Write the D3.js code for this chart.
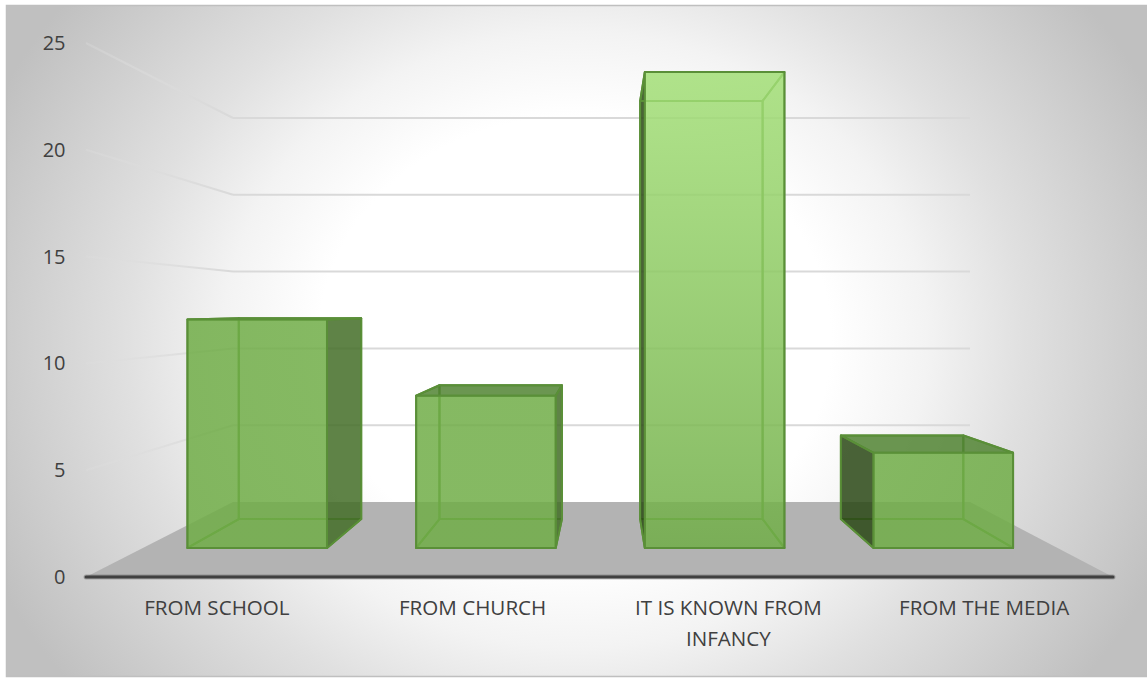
<!DOCTYPE html>
<html><head><meta charset="utf-8">
<script src="https://cdn.jsdelivr.net/npm/d3@7"></script>
<style>html,body{margin:0;padding:0;background:#fff;overflow:hidden}svg{display:block}text{font-family:"Open Sans",sans-serif;fill:#404040}</style>
</head><body><svg id="c" width="1147" height="679"></svg>
<script>
const categories = ["FROM SCHOOL","FROM CHURCH","IT IS KNOWN FROM|INFANCY","FROM THE MEDIA"];
const values = [12,8,25,5];
const tickValues = [0,5,10,15,20,25];

const svg = d3.select("#c");
const defs = svg.append("defs");
const W=1147,H=679;

// depth-aware scales: t=0 front of floor, t=1 back wall
const leftAt = d3.scaleLinear().domain([0,1]).range([86,233]);
const rightAt = d3.scaleLinear().domain([0,1]).range([1113,970]);
const baseAt = d3.scaleLinear().domain([0,1]).range([577,502]);
const unitAt = d3.scaleLinear().domain([0,1]).range([21.36,15.36]);
const band = d3.scaleBand().domain(categories).range([0,1]).paddingInner(0.39).paddingOuter(0.195);
const labelX = d3.scaleBand().domain(categories).range([89,1112]);
const depthFront=0.387, depthBack=0.773;
function P(u,v,t){
  const x = d3.scaleLinear().domain([0,1]).range([leftAt(t),rightAt(t)])(u);
  const y = d3.scaleLinear().domain([0,25]).range([baseAt(t),baseAt(t)-25*unitAt(t)])(v);
  return [x,y];
}
const poly = pts => "M"+pts.map(p=>p.join(",")).join("L")+"Z";

// background
const bg = defs.append("radialGradient").attr("id","bg").attr("gradientUnits","userSpaceOnUse")
  .attr("cx",0).attr("cy",0).attr("r",1)
  .attr("gradientTransform","translate(575,340) scale(640,560)");
[[0.4,"#ffffff"],[0.55,"#f3f3f3"],[0.7,"#e0e0e0"],[0.85,"#d0d0d0"],[1,"#c0c0c0"]].forEach(s=>bg.append("stop").attr("offset",s[0]).attr("stop-color",s[1]));
svg.append("rect").attr("x",6.5).attr("y",5.5).attr("width",W).attr("height",671).attr("fill","url(#bg)").attr("stroke","#bfbfbf").attr("stroke-width",1.5);

// floor
svg.append("path").attr("d",poly([P(0,0,0),P(0,0,1),P(1,0,1),P(1,0,0)])).attr("fill","#b3b3b3");

// grid
tickValues.filter(v=>v>0).forEach((v,i)=>{
  const a=P(0,v,0), b=P(0,v,1), c=P(1,v,1);
  const g=defs.append("linearGradient").attr("id","wall"+i).attr("gradientUnits","userSpaceOnUse")
    .attr("x1",a[0]).attr("y1",a[1]).attr("x2",b[0]).attr("y2",b[1]);
  g.append("stop").attr("offset",0).attr("stop-color","#dedede").attr("stop-opacity",0.3);
  g.append("stop").attr("offset",1).attr("stop-color","#d9d9d9").attr("stop-opacity",1);
  svg.append("path").attr("d",`M${a}L${b}`).attr("stroke",`url(#wall${i})`).attr("stroke-width",2).attr("fill","none");
  svg.append("path").attr("d",`M${b}L${c}`).attr("stroke","#d9d9d9").attr("stroke-width",2).attr("fill","none");
});

// bars
const topColor = d3.scaleLinear().domain([12,25]).range(["#70ad47","#a3df77"]).clamp(true);
const EDGE="#5a8f38";
categories.forEach((cat,i)=>{
  const u0=band(cat), u1=u0+band.bandwidth(), v=values[i];
  const f={bl:P(u0,0,depthFront),br:P(u1,0,depthFront),tl:P(u0,v,depthFront),tr:P(u1,v,depthFront)};
  const b={bl:P(u0,0,depthBack),br:P(u1,0,depthBack),tl:P(u0,v,depthBack),tr:P(u1,v,depthBack)};
  const grad=defs.append("linearGradient").attr("id","front"+i).attr("gradientUnits","userSpaceOnUse")
    .attr("x1",0).attr("x2",0).attr("y1",f.tl[1]).attr("y2",f.bl[1]);
  grad.append("stop").attr("offset",0).attr("stop-color",topColor(v));
  grad.append("stop").attr("offset",1).attr("stop-color","#70ad47");
  const g=svg.append("g");
  const face=(pts,fill,op)=>g.append("path").attr("d",poly(pts)).attr("fill",fill).attr("fill-opacity",op)
     .attr("stroke",EDGE).attr("stroke-width",2).attr("stroke-linejoin","round");
  face([b.bl,b.br,b.tr,b.tl],"none",1);
  face([f.bl,f.br,b.br,b.bl],"none",1);
  const outerL=b.tl[0]<f.tl[0], outerR=b.tr[0]>f.tr[0], outerT=b.tl[1]<f.tl[1];
  face([f.bl,b.bl,b.tl,f.tl], outerL?"#2a4815":"none",0.85);
  face([f.br,b.br,b.tr,f.tr], outerR?"#436d27":"none",0.85);
  face([f.tl,f.tr,b.tr,b.tl], outerT?"#518433":"none",0.85);
  face([f.bl,f.br,f.tr,f.tl],`url(#front${i})`,0.85);
});

// axis line
const a0=P(0,0,0), a1=P(1,0,0);
svg.append("path").attr("d",`M${a0}L${a1}`).attr("stroke","#404040").attr("stroke-opacity",0.3).attr("stroke-width",5).attr("stroke-linecap","round").attr("fill","none");
svg.append("path").attr("d",`M${a0}L${a1}`).attr("stroke","#404040").attr("stroke-width",3).attr("stroke-linecap","round").attr("fill","none");

// tick labels
tickValues.forEach(v=>{
  svg.append("text").attr("x",65.5).attr("y",P(0,v,0)[1]).attr("dy","0.35em").attr("text-anchor","end")
    .attr("font-size",20).text(v);
});
// category labels
categories.forEach(cat=>{
  const c=labelX(cat)+labelX.bandwidth()/2;
  cat.split("|").forEach((s,j)=>{
    svg.append("text").attr("x",c).attr("y",608+j*31).attr("dy","0.35em").attr("text-anchor","middle")
      .attr("font-size",20.6).text(s);
  });
});
</script></body></html>
